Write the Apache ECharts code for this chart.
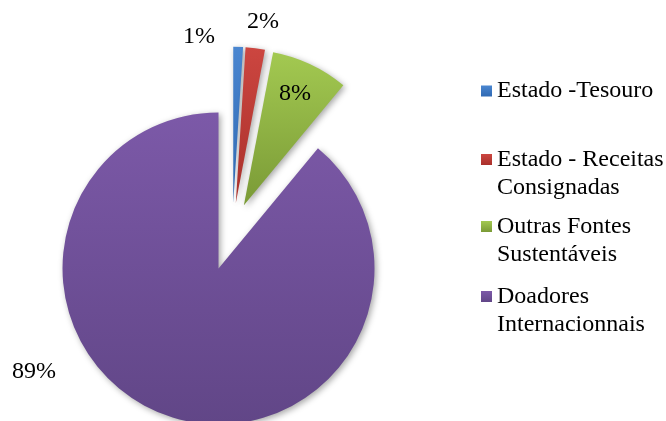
<!DOCTYPE html>
<html>
<head>
<meta charset="utf-8">
<script src="https://cdn.jsdelivr.net/npm/echarts@6/dist/echarts.min.js"></script>
<style>
html,body{margin:0;padding:0;background:#fff;}
#c{width:666px;height:421px;}
</style>
</head>
<body>
<div id="c"></div>
<script>
// ---- data ----
const categories = ['Estado -Tesouro', 'Estado - Receitas Consignadas', 'Outras Fontes Sustentáveis', 'Doadores Internacionnais'];
const legendLines = [['Estado -Tesouro'], ['Estado - Receitas', 'Consignadas'], ['Outras Fontes', 'Sustentáveis'], ['Doadores', 'Internacionnais']];
const values = [1, 2, 8, 89];
const percentLabels = ['1%', '2%', '8%', '89%'];

// ---- styles ----
const FONT = "'Liberation Serif', 'Times New Roman', serif";
const colorsTop = ['#4a86d0', '#cc4640', '#a3c951', '#7c59a8'];
const colorsBottom = ['#2f69b3', '#a9302b', '#7a9a36', '#614687'];
const labelPos = [[199, 37], [263, 22], [295, 94], [34, 372]];
const legendCenters = [91, 159.5, 226.5, 296.5];
const CENTER = [232.4, 229.8];
const RADIUS = 156;

function grad(i) {
  return new echarts.graphic.LinearGradient(0, 0, 0, 1, [
    {offset: 0, color: colorsTop[i]},
    {offset: 1, color: colorsBottom[i]}
  ]);
}

const clear = {color: 'rgba(0,0,0,0)', shadowBlur: 0, borderWidth: 0};

function basePie() {
  return {
    type: 'pie',
    center: CENTER,
    radius: RADIUS,
    startAngle: 90,
    clockwise: true,
    avoidLabelOverlap: false,
    animation: false,
    silent: true,
    emphasis: {disabled: true},
    labelLine: {show: false}
  };
}

// exploded slices (drawn), grouped by explode distance
function slicesSeries(visibleFn, offset) {
  return Object.assign(basePie(), {
    selectedMode: 'multiple',
    selectedOffset: offset,
    label: {show: false},
    data: categories.map((name, i) => {
      const vis = visibleFn(i);
      return {
        name: name,
        value: values[i],
        selected: vis,
        itemStyle: vis ? {
          color: grad(i),
          shadowBlur: 6, shadowColor: 'rgba(0,0,0,0.35)', shadowOffsetX: 2, shadowOffsetY: 2
        } : clear
      };
    })
  });
}

// percentage labels
const labelSeries = Object.assign(basePie(), {
  selectedMode: false,
  itemStyle: clear,
  label: {
    show: true,
    position: 'outside',
    formatter: p => percentLabels[p.dataIndex],
    fontFamily: FONT,
    fontSize: 24,
    color: '#000'
  },
  labelLayout: p => ({
    x: labelPos[p.dataIndex][0],
    y: labelPos[p.dataIndex][1],
    align: 'center',
    verticalAlign: 'middle'
  }),
  data: categories.map((name, i) => ({name: name, value: values[i], itemStyle: clear}))
});

const legends = categories.map((name, i) => {
  const lines = legendLines[i];
  const multi = lines.length > 1;
  return {
    show: true,
    orient: 'vertical',
    left: 481,
    top: multi ? legendCenters[i] - 42 : legendCenters[i] - 14,
    padding: 0,
    itemWidth: 11,
    itemHeight: 11,
    selectedMode: false,
    icon: 'rect',
    data: [{name: name, itemStyle: {color: grad(i), borderWidth: 0, shadowBlur: 0}}],
    formatter: () => (multi ? '\n' : '') + lines.join('\n'),
    textStyle: {
      fontFamily: FONT,
      fontSize: 24,
      color: '#000',
      lineHeight: 28
    }
  };
});

const chart = echarts.init(document.getElementById('c'), null, {renderer: 'canvas'});
chart.setOption({
  backgroundColor: '#ffffff',
  animation: false,
  legend: legends,
  series: [
    slicesSeries(i => i < 3, 27),
    slicesSeries(i => i === 3, 41),
    labelSeries
  ]
});
</script>
</body>
</html>
